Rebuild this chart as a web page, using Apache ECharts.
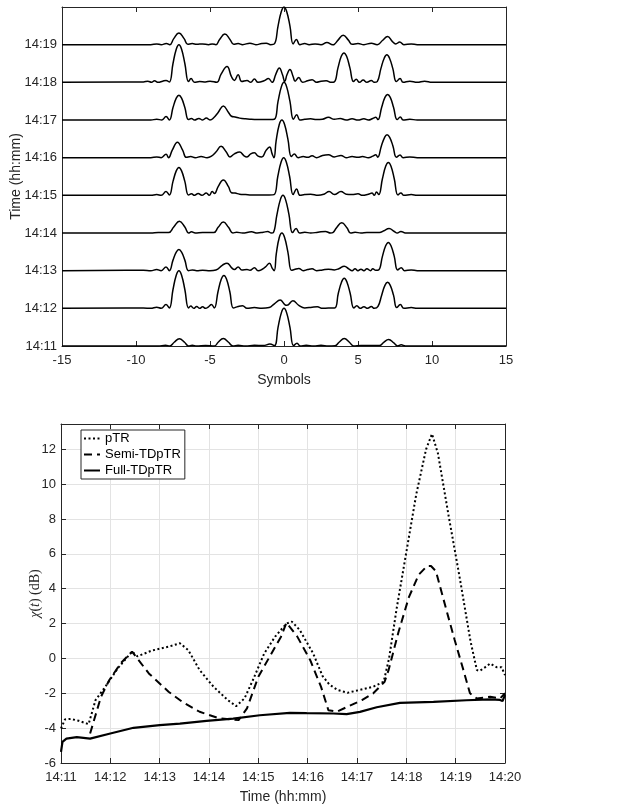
<!DOCTYPE html>
<html>
<head>
<meta charset="utf-8">
<title>pTR</title>
<script src="https://cdn.jsdelivr.net/npm/echarts@6/dist/echarts.min.js"></script>
<style>
html,body{margin:0;padding:0;background:#fff;}
#main{width:621px;height:806px;}
</style>
</head>
<body>
<div id="main"></div>
<script>
// top panel: one trace per minute, [symbol, normalised amplitude]
var trace1411=[[-15,0],[-8.5,0],[-8.0,0.02],[-7.72,0.0],[-7.42,0.1],[-7.07,0.19],[-6.72,0.1],[-6.45,0.0],[-6.2,0.02],[-5.9,0.0],[-5.3,0.01],[-4.7,0.0],[-4.45,0.1],[-4.1,0.2],[-3.75,0.1],[-3.45,0.0],[-3.1,0.02],[-2.6,0.0],[-2.0,0.02],[-1.4,0.01],[-0.95,0.05],[-0.65,0.01],[-0.4,0.5],[-0.18,0.88],[0,1.0],[0.18,0.88],[0.4,0.5],[0.65,0.01],[0.88,0.07],[1.1,0.0],[1.5,0.02],[2.0,0.0],[2.5,0.02],[3.0,0.0],[3.45,0.01],[3.72,0.1],[4.07,0.2],[4.42,0.1],[4.7,0.0],[5.2,0.01],[6.0,0.01],[6.45,0.01],[6.72,0.09],[7.07,0.17],[7.42,0.08],[7.68,0.0],[7.92,0.03],[8.2,0.0],[9,0],[15,0]];
var trace1412=[[-15,0],[-9.5,0.01],[-9.0,0.0],[-8.6,0.03],[-8.3,0.0],[-7.97,0.1],[-7.75,0.01],[-7.5,0.5],[-7.28,0.88],[-7.1,1.0],[-6.92,0.88],[-6.7,0.5],[-6.45,0.01],[-6.3,0.06],[-6.1,0.0],[-5.9,0.05],[-5.7,0.0],[-5.5,0.04],[-5.3,0.0],[-5.1,0.04],[-4.9,0.1],[-4.71,0.01],[-4.46,0.44],[-4.24,0.77],[-4.06,0.87],[-3.88,0.77],[-3.66,0.44],[-3.41,0.01],[-3.1,0.05],[-2.8,0.07],[-2.5,0.0],[-2.0,0.02],[-1.5,0.0],[-1.0,0.02],[-0.65,0.12],[-0.26,0.22],[0.05,0.1],[0.2,0.08],[0.6,0.2],[1.0,0.08],[1.4,0.01],[1.9,0.03],[2.25,0.04],[2.6,0.0],[3.0,0.01],[3.42,0.01],[3.67,0.4],[3.89,0.7],[4.07,0.8],[4.25,0.7],[4.47,0.4],[4.72,0.01],[4.92,0.07],[5.15,0.0],[5.4,0.04],[5.65,0.0],[5.9,0.05],[6.1,0.0],[6.35,0.05],[6.6,0.35],[6.82,0.61],[7.0,0.69],[7.18,0.61],[7.4,0.35],[7.62,0.02],[7.86,0.1],[8.1,0.0],[8.6,0.02],[9,0],[15,0]];
var trace1413=[[-15,0],[-9.5,0.01],[-9.0,0.0],[-8.6,0.03],[-8.3,0.0],[-7.97,0.1],[-7.75,0.0],[-7.5,0.28],[-7.28,0.49],[-7.1,0.56],[-6.92,0.49],[-6.7,0.28],[-6.45,0.0],[-6.2,0.02],[-5.9,0.0],[-5.5,0.01],[-5.0,0.0],[-4.6,0.02],[-4.15,0.15],[-3.85,0.2],[-3.55,0.08],[-3.35,0.03],[-3.1,0.1],[-2.85,0.02],[-2.5,0.03],[-2.3,0.01],[-2.0,0.08],[-1.75,0.0],[-1.5,0.03],[-1.25,0.1],[-0.98,0.2],[-0.8,0.07],[-0.66,0.0],[-0.52,0.45],[-0.32,0.88],[-0.14,1.0],[0.04,0.88],[0.26,0.5],[0.51,0.01],[0.7,0.03],[1.0,0.06],[1.3,0.0],[1.6,0.03],[1.9,0.05],[2.2,0.0],[2.6,0.02],[3.0,0.04],[3.4,0.02],[3.7,0.05],[4.07,0.12],[4.4,0.04],[4.6,0.0],[4.8,0.05],[5.0,0.0],[5.2,0.04],[5.4,0.0],[5.6,0.05],[5.85,0.0],[6.0,0.05],[6.2,0.01],[6.4,0.02],[6.65,0.38],[6.87,0.66],[7.05,0.75],[7.23,0.66],[7.45,0.38],[7.68,0.02],[7.92,0.08],[8.15,0.0],[8.6,0.02],[9,0],[15,0]];
var trace1414=[[-15,0],[-9,0],[-8.5,0.01],[-7.8,0.01],[-7.45,0.16],[-7.07,0.31],[-6.7,0.16],[-6.45,0.0],[-6.25,0.03],[-6.0,0.0],[-5.5,0.01],[-4.75,0.01],[-4.45,0.15],[-4.1,0.29],[-3.75,0.15],[-3.45,0.0],[-3.2,0.02],[-2.8,0.0],[-2.2,0.03],[-1.8,0.0],[-1.4,0.02],[-1.1,0.04],[-0.85,0.0],[-0.72,0.01],[-0.47,0.5],[-0.25,0.88],[-0.07,1.0],[0.11,0.88],[0.33,0.5],[0.58,0.01],[0.82,0.12],[1.05,0.0],[1.4,0.02],[1.8,0.0],[2.3,0.02],[2.8,0.04],[3.15,0.0],[3.3,0.01],[3.55,0.14],[3.9,0.27],[4.25,0.14],[4.5,0.0],[4.8,0.02],[5.2,0.0],[5.6,0.01],[6.0,0.01],[6.45,0.01],[6.75,0.06],[7.1,0.12],[7.45,0.04],[7.65,0.0],[7.9,0.04],[8.2,0.0],[9,0],[15,0]];
var trace1415=[[-15,0],[-9,0],[-8.6,0.02],[-8.3,0.0],[-7.97,0.1],[-7.75,0.01],[-7.5,0.37],[-7.28,0.65],[-7.1,0.74],[-6.92,0.65],[-6.7,0.37],[-6.45,0.01],[-6.25,0.04],[-6.05,0.0],[-5.8,0.05],[-5.55,0.0],[-5.25,0.06],[-5.05,0.0],[-4.85,0.1],[-4.7,0.05],[-4.45,0.23],[-4.1,0.41],[-3.75,0.23],[-3.55,0.07],[-3.3,0.06],[-3.0,0.03],[-2.6,0.02],[-2.2,0.01],[-1.6,0.01],[-1.0,0.01],[-0.67,0.02],[-0.42,0.5],[-0.2,0.88],[-0.02,1.0],[0.16,0.88],[0.38,0.5],[0.62,0.02],[0.85,0.17],[1.08,0.0],[1.4,0.02],[1.8,0.03],[2.3,0.0],[2.7,0.03],[3.05,0.1],[3.4,0.02],[3.85,0.1],[4.2,0.03],[4.6,0.02],[5.0,0.04],[5.3,0.0],[5.7,0.03],[5.95,0.06],[6.1,0.0],[6.25,0.09],[6.4,0.02],[6.65,0.44],[6.87,0.77],[7.05,0.87],[7.23,0.77],[7.45,0.44],[7.7,0.01],[7.9,0.06],[8.1,0.0],[8.6,0.02],[9,0],[15,0]];
var trace1416=[[-15,0],[-9,0],[-8.6,0.02],[-8.3,0.0],[-7.97,0.09],[-7.8,0.0],[-7.55,0.2],[-7.2,0.41],[-6.85,0.2],[-6.6,0.01],[-6.3,0.03],[-6.0,0.0],[-5.6,0.03],[-5.2,0.0],[-4.9,0.04],[-4.6,0.15],[-4.25,0.3],[-3.9,0.15],[-3.65,0.02],[-3.35,0.1],[-3.0,0.15],[-2.7,0.05],[-2.5,0.02],[-2.25,0.1],[-2.0,0.13],[-1.75,0.04],[-1.5,0.02],[-1.2,0.2],[-0.97,0.28],[-0.8,0.1],[-0.68,0.0],[-0.53,0.45],[-0.32,0.88],[-0.14,1.0],[0.04,0.88],[0.26,0.5],[0.5,0.03],[0.7,0.1],[0.95,0.0],[1.3,0.03],[1.6,0.01],[1.9,0.05],[2.2,0.0],[2.6,0.06],[3.0,0.08],[3.4,0.02],[3.85,0.06],[4.2,0.0],[4.6,0.03],[5.0,0.01],[5.3,0.03],[5.7,0.0],[6.0,0.04],[6.2,0.08],[6.33,0.01],[6.58,0.31],[6.8,0.54],[6.96,0.61],[7.14,0.54],[7.36,0.31],[7.6,0.01],[7.84,0.07],[8.05,0.0],[8.5,0.02],[9,0],[15,0]];
var trace1417=[[-15,0],[-9,0],[-8.6,0.02],[-8.25,0.0],[-7.97,0.09],[-7.75,0.0],[-7.5,0.33],[-7.28,0.58],[-7.1,0.66],[-6.92,0.58],[-6.7,0.33],[-6.45,0.01],[-6.25,0.04],[-6.05,0.0],[-5.75,0.04],[-5.5,0.0],[-5.25,0.05],[-5.0,0.0],[-4.75,0.06],[-4.45,0.2],[-4.1,0.37],[-3.75,0.2],[-3.55,0.1],[-3.3,0.08],[-3.0,0.05],[-2.6,0.03],[-2.2,0.02],[-1.6,0.01],[-1.0,0.01],[-0.65,0.02],[-0.4,0.5],[-0.18,0.88],[0,1.0],[0.18,0.88],[0.4,0.5],[0.64,0.02],[0.86,0.14],[1.08,0.0],[1.4,0.02],[1.8,0.03],[2.2,0.01],[2.6,0.02],[3.0,0.07],[3.4,0.02],[3.8,0.04],[4.2,0.0],[4.6,0.03],[5.0,0.0],[5.4,0.03],[5.7,0.0],[6.0,0.04],[6.2,0.07],[6.35,0.01],[6.6,0.34],[6.82,0.6],[7.0,0.68],[7.18,0.6],[7.4,0.34],[7.65,0.01],[7.86,0.08],[8.05,0.0],[8.5,0.02],[9,0],[15,0]];
var trace1418=[[-15,0],[-9.5,0.01],[-9.2,0.03],[-8.95,0.0],[-8.75,0.04],[-8.5,0.0],[-8.2,0.03],[-7.97,0.05],[-7.75,0.01],[-7.5,0.5],[-7.28,0.88],[-7.1,1.0],[-6.92,0.88],[-6.7,0.5],[-6.45,0.02],[-6.28,0.1],[-6.05,0.0],[-5.7,0.02],[-5.3,0.01],[-5.0,0.03],[-4.55,0.0],[-4.25,0.22],[-3.85,0.42],[-3.55,0.15],[-3.35,0.05],[-3.1,0.2],[-2.85,0.02],[-2.5,0.05],[-2.25,0.0],[-2.0,0.09],[-1.75,0.0],[-1.35,0.04],[-1.05,0.1],[-0.8,0.0],[-0.55,0.22],[-0.32,0.38],[-0.1,0.2],[0.05,0.02],[0.2,0.2],[0.4,0.34],[0.62,0.15],[0.75,0.03],[1.0,0.13],[1.25,0.0],[1.6,0.04],[1.9,0.07],[2.2,0.0],[2.5,0.03],[2.85,0.04],[3.2,0.0],[3.4,0.01],[3.65,0.39],[3.87,0.69],[4.05,0.78],[4.23,0.69],[4.45,0.39],[4.7,0.02],[4.88,0.08],[5.1,0.0],[5.35,0.06],[5.6,0.0],[5.9,0.05],[6.1,0.0],[6.3,0.02],[6.55,0.37],[6.77,0.64],[6.95,0.73],[7.13,0.64],[7.35,0.37],[7.6,0.02],[7.84,0.1],[8.05,0.0],[8.5,0.03],[9.0,0.0],[9.5,0.03],[10,0],[15,0]];
var trace1419=[[-15,0],[-9,0],[-8.6,0.02],[-8.3,0],[-7.95,0.03],[-7.72,0.0],[-7.45,0.16],[-7.1,0.31],[-6.75,0.16],[-6.5,0.01],[-6.2,0.03],[-5.9,0.01],[-5.5,0.02],[-5.1,0.0],[-4.85,0.02],[-4.6,0.0],[-4.35,0.14],[-4.0,0.28],[-3.65,0.14],[-3.4,0.01],[-3.1,0.03],[-2.8,0.0],[-2.3,0.04],[-1.9,0.0],[-1.5,0.03],[-1.2,0.04],[-0.9,0.0],[-0.65,0.02],[-0.4,0.5],[-0.18,0.88],[0,1.0],[0.18,0.88],[0.4,0.5],[0.62,0.02],[0.84,0.14],[1.07,0.0],[1.4,0.03],[1.7,0.0],[2.1,0.02],[2.5,0.0],[2.9,0.06],[3.3,0.0],[3.4,0.01],[3.65,0.12],[4.0,0.25],[4.35,0.12],[4.6,0.01],[5.0,0.03],[5.4,0.0],[5.9,0.04],[6.3,0.0],[6.65,0.11],[7.0,0.22],[7.33,0.08],[7.55,0.02],[7.82,0.07],[8.1,0.0],[8.6,0.02],[9,0],[15,0]];

var traceList=[trace1411,trace1412,trace1413,trace1414,trace1415,trace1416,trace1417,trace1418,trace1419];
var timeLabels=['14:11','14:12','14:13','14:14','14:15','14:16','14:17','14:18','14:19','14:20'];

// bottom panel: [minutes after 14:11, dB]
var pTR=[[0,-4.02],[0.08,-3.5],[0.2,-3.47],[0.36,-3.58],[0.56,-3.77],[0.7,-2.39],[0.9,-1.62],[1.15,-0.57],[1.44,0.39],[1.55,0.12],[1.84,0.45],[2.18,0.67],[2.41,0.87],[2.58,0.48],[2.81,-0.67],[3.09,-1.62],[3.38,-2.39],[3.55,-2.74],[3.72,-2.29],[3.89,-1.24],[4.12,0.29],[4.34,1.25],[4.57,2.0],[4.68,2.11],[4.84,1.63],[5.11,0.29],[5.3,-1.0],[5.44,-1.5],[5.6,-1.8],[5.81,-1.97],[6.04,-1.82],[6.33,-1.62],[6.54,-1.34],[6.65,0.0],[6.8,2.8],[7.0,6.1],[7.2,9.4],[7.4,12.0],[7.52,12.88],[7.64,11.77],[7.86,8.14],[8.09,4.5],[8.3,1.0],[8.43,-0.67],[8.49,-0.71],[8.6,-0.5],[8.7,-0.29],[8.83,-0.5],[8.93,-0.5],[9.0,-0.96]];
var semiTDpTR=[[0.59,-4.31],[0.81,-2.2],[0.98,-1.24],[1.21,-0.28],[1.44,0.39],[1.78,-0.86],[2.18,-1.91],[2.46,-2.49],[2.81,-3.06],[3.21,-3.44],[3.6,-3.54],[3.77,-2.87],[4.0,-1.05],[4.23,0.1],[4.46,1.25],[4.57,2.05],[4.79,1.25],[5.05,-0.09],[5.27,-1.62],[5.42,-2.97],[5.59,-3.06],[5.81,-2.77],[6.1,-2.39],[6.33,-2.0],[6.56,-1.34],[6.64,-0.67],[6.84,1.5],[7.05,3.5],[7.25,4.8],[7.42,5.3],[7.5,5.3],[7.6,5.0],[7.81,2.8],[7.98,1.06],[8.15,-0.6],[8.29,-2.0],[8.43,-2.3],[8.7,-2.2],[8.9,-2.3],[8.93,-2.4],[9.0,-2.0]];
var fullTDpTR=[[0,-5.36],[0.03,-4.79],[0.11,-4.6],[0.32,-4.52],[0.59,-4.6],[1.0,-4.31],[1.47,-3.98],[2.0,-3.83],[2.41,-3.74],[2.95,-3.58],[3.49,-3.45],[4.03,-3.26],[4.64,-3.12],[4.98,-3.14],[5.52,-3.16],[5.79,-3.2],[6.06,-3.07],[6.4,-2.8],[6.87,-2.55],[7.55,-2.49],[8.22,-2.4],[8.7,-2.35],[8.9,-2.38],[8.95,-2.45],[9.0,-2.1]];

var axisColor='#262626';
var gridColor='#e3e3e3';
var sansFont="'Liberation Sans', Arial, sans-serif";

window.onload=function(){
	drawChart();
};

/**
 * two stacked panels in one echarts instance
 */
function drawChart(){
	var myChart=echarts.init(document.getElementById('main'));

	var tick={show:true,inside:true,length:5,lineStyle:{color:axisColor}};
	var line={show:true,onZero:false,lineStyle:{color:axisColor,width:1}};
	var label={color:axisColor,fontSize:13,fontFamily:sansFont};

	var series=[];
	// each trace sits on its own minute
	for(var k=0;k<traceList.length;k++){
		series.push({
			type:'line',
			xAxisIndex:0,
			yAxisIndex:0,
			data:traceList[k].map(function(p){return [p[0],p[1]+k];}),
			showSymbol:false,
			smooth:0.45,
			lineStyle:{color:'#000',width:1.5},
			silent:true
		});
	}
	series.push({
		name:'pTR',type:'line',xAxisIndex:2,yAxisIndex:2,data:pTR,
		showSymbol:false,symbol:'none',
		lineStyle:{color:'#000',width:2,type:[2,2.5]},itemStyle:{color:'#000'}
	});
	series.push({
		name:'Semi-TDpTR',type:'line',xAxisIndex:2,yAxisIndex:2,data:semiTDpTR,
		showSymbol:false,symbol:'none',
		lineStyle:{color:'#000',width:2,type:[8,5]},itemStyle:{color:'#000'}
	});
	series.push({
		name:'Full-TDpTR',type:'line',xAxisIndex:2,yAxisIndex:2,data:fullTDpTR,
		showSymbol:false,symbol:'none',
		lineStyle:{color:'#000',width:2.2},itemStyle:{color:'#000'}
	});

	var option={
		backgroundColor:'#fff',
		animation:false,
		grid:[
			{left:62,right:115,top:7,bottom:460,outerBoundsMode:'none'},
			{left:61,right:116,top:424,bottom:43,outerBoundsMode:'none'}
		],
		legend:{
			left:81,top:430,orient:'vertical',
			data:['pTR','Semi-TDpTR','Full-TDpTR'],
			itemWidth:16,itemHeight:14,itemGap:3,
			padding:[2,4,2,2],
			itemStyle:{opacity:0},
			backgroundColor:'#fff',borderColor:axisColor,borderWidth:1,borderRadius:0,
			textStyle:{color:'#000',fontSize:13,fontFamily:sansFont}
		},
		xAxis:[
			{
				gridIndex:0,type:'value',min:-15,max:15,interval:5,
				axisLine:line,axisTick:tick,splitLine:{show:false},
				axisLabel:Object.assign({margin:8},label),
				name:'Symbols',nameLocation:'middle',nameGap:27,nameMoveOverlap:false,
				nameTextStyle:{color:axisColor,fontSize:14,fontFamily:sansFont}
			},
			{
				gridIndex:0,type:'value',min:-15,max:15,interval:5,position:'top',
				axisLine:line,axisTick:tick,axisLabel:{show:false},splitLine:{show:false}
			},
			{
				gridIndex:1,type:'value',min:0,max:9,interval:1,
				axisLine:line,axisTick:tick,
				splitLine:{show:true,lineStyle:{color:gridColor,width:1}},
				axisLabel:Object.assign({margin:8,formatter:function(v){return timeLabels[Math.round(v)];}},label),
				name:'Time (hh:mm)',nameLocation:'middle',nameGap:27,nameMoveOverlap:false,
				nameTextStyle:{color:axisColor,fontSize:14,fontFamily:sansFont}
			},
			{
				gridIndex:1,type:'value',min:0,max:9,interval:1,position:'top',
				axisLine:line,axisTick:tick,axisLabel:{show:false},splitLine:{show:false}
			}
		],
		yAxis:[
			{
				gridIndex:0,type:'value',min:0,max:9,interval:1,
				axisLine:line,axisTick:{show:false},splitLine:{show:false},
				axisLabel:Object.assign({margin:5,formatter:function(v){return v<9?timeLabels[Math.round(v)]:'';}},label),
				name:'Time (hh:mm)',nameLocation:'middle',nameGap:39,nameMoveOverlap:false,
				nameTextStyle:{color:axisColor,fontSize:14,fontFamily:sansFont}
			},
			{
				gridIndex:0,type:'value',min:0,max:9,position:'right',
				axisLine:line,axisTick:{show:false},axisLabel:{show:false},splitLine:{show:false}
			},
			{
				gridIndex:1,type:'value',min:-6,max:13.45,interval:2,
				axisLine:line,axisTick:tick,
				splitLine:{show:true,lineStyle:{color:gridColor,width:1}},
				axisLabel:Object.assign({margin:5,formatter:function(v){return (Math.abs(v%2)<1e-6)?String(v):'';}},label),
				name:'{i|χ}({i|t}) (dB)',nameLocation:'middle',nameGap:19,nameMoveOverlap:false,
				nameTextStyle:{
					color:axisColor,fontSize:14,fontFamily:"'Liberation Serif', serif",
					rich:{i:{fontStyle:'italic',fontSize:14,fontFamily:"'Liberation Serif', serif",color:axisColor}}
				}
			},
			{
				gridIndex:1,type:'value',min:-6,max:13.45,interval:2,position:'right',
				axisLine:line,axisTick:tick,axisLabel:{show:false},splitLine:{show:false}
			}
		],
		series:series
	};

	myChart.setOption(option);
}
</script>
</body>
</html>
